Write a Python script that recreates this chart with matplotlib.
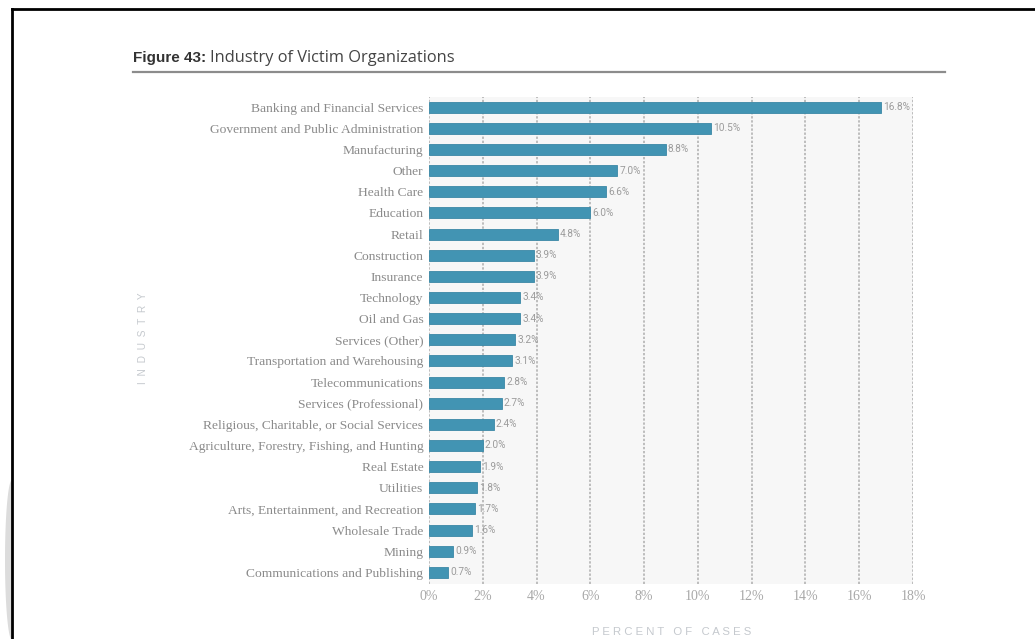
import numpy as np
import matplotlib
matplotlib.use("Agg")
import matplotlib.pyplot as plt
from matplotlib.patches import Polygon
from matplotlib.lines import Line2D

industries = [
    "Banking and Financial Services",
    "Government and Public Administration",
    "Manufacturing",
    "Other",
    "Health Care",
    "Education",
    "Retail",
    "Construction",
    "Insurance",
    "Technology",
    "Oil and Gas",
    "Services (Other)",
    "Transportation and Warehousing",
    "Telecommunications",
    "Services (Professional)",
    "Religious, Charitable, or Social Services",
    "Agriculture, Forestry, Fishing, and Hunting",
    "Real Estate",
    "Utilities",
    "Arts, Entertainment, and Recreation",
    "Wholesale Trade",
    "Mining",
    "Communications and Publishing",
]
percent = [16.8, 10.5, 8.8, 7.0, 6.6, 6.0, 4.8, 3.9, 3.9, 3.4, 3.4, 3.2, 3.1,
           2.8, 2.7, 2.4, 2.0, 1.9, 1.8, 1.7, 1.6, 0.9, 0.7]
xticks = [0, 2, 4, 6, 8, 10, 12, 14, 16, 18]
xtick_labels = ["0%", "2%", "4%", "6%", "8%", "10%", "12%", "14%", "16%", "18%"]

W, H = 1035, 639
fig = plt.figure(figsize=(W / 100, H / 100), dpi=100)
fig.patch.set_facecolor("white")

# page decoration: border lines and shadow arc
t = np.linspace(-np.pi / 2, np.pi / 2, 100)
cx, cy, rx, ry = 12, 560, 7, 80
xs = cx - rx * np.cos(t)
ys = cy + ry * np.sin(t)
arc = Polygon(np.column_stack([xs / W, 1 - ys / H]), closed=True,
              transform=fig.transFigure, facecolor="#dcdcdc", edgecolor="none")
fig.patches.append(arc)
fig.add_artist(Line2D([12 / W, 12 / W], [0, 1 - 9 / H], transform=fig.transFigure,
                      color="black", lw=2))
fig.add_artist(Line2D([11.5 / W, 1], [1 - 9 / H, 1 - 9 / H], transform=fig.transFigure,
                      color="black", lw=2))

# title
t1 = fig.text(133 / W, 1 - 58 / H, "Figure 43:", fontsize=11, fontweight="bold",
              family="Liberation Sans", color="#333333", va="center", ha="left")
fig.canvas.draw()
bb = t1.get_window_extent()
fig.text(bb.x1 / W + 4 / W, 1 - 58 / H, "Industry of Victim Organizations", fontsize=11.8,
         family="Open Sans", color="#444444", va="center", ha="left")
fig.add_artist(Line2D([133 / W, 945 / W], [1 - 72 / H, 1 - 72 / H], transform=fig.transFigure,
                      color="#8c8c8c", lw=1.6))

ax = fig.add_axes([429 / W, 1 - 584 / H, (913 - 429) / W, (584 - 97) / H])
ax.set_facecolor("#f7f7f7")
y = np.arange(len(industries))
ax.barh(y, percent, height=0.52, color="#4294b3", edgecolor="#3a88a6", linewidth=0.6, zorder=3)
ax.set_xlim(0, 18)
ax.set_ylim(len(industries) - 0.45, -0.48)
for s in ax.spines.values():
    s.set_visible(False)
for xv in xticks:
    ax.axvline(xv, color="#bdbdbd", lw=1.4, ls=(0, (1.2, 0.9)), zorder=2)

ax.set_xticks(xticks)
ax.set_xticklabels(xtick_labels, family="Liberation Serif", fontsize=10, color="#a8a8a8")
ax.set_yticks(y)
ax.set_yticklabels(industries, family="Liberation Serif", fontsize=9.7, color="#8a8a8a")
ax.tick_params(axis="both", length=0)
ax.tick_params(axis="x", pad=4)
ax.tick_params(axis="y", pad=4)

for yi, v in zip(y, percent):
    ax.annotate(f"{v:.1f}%", (v, yi), xytext=(1.5, 0), textcoords="offset points",
                va="center", ha="left", fontsize=7.3, family="Roboto", color="#9c9c9c",
                zorder=4)

fig.text(143 / W, 1 - 338 / H, "  ".join("INDUSTRY"), rotation=90, fontsize=7.3,
         family="Liberation Sans", color="#c5c9ce", ha="center", va="center")
fig.text(672 / W, 1 - 632 / H, " ".join("PERCENT") + "   " + " ".join("OF") + "   " + " ".join("CASES"),
         fontsize=8.2, family="Liberation Sans", color="#c5c9ce", ha="center", va="center")

fig.savefig("out.png", dpi=100, facecolor="white")
